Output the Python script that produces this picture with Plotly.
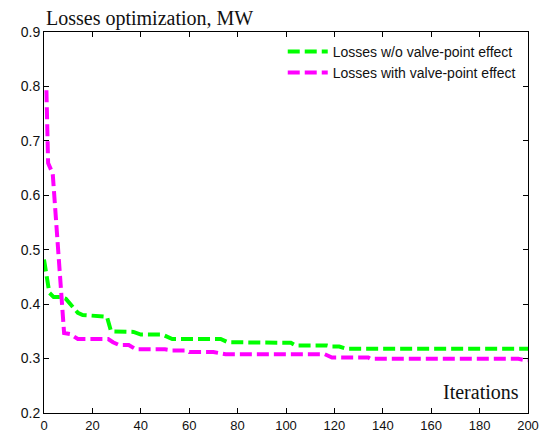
import plotly.graph_objects as go

# Convergence of transmission losses over the iterations
iter_wo = [0, 2.2, 4, 7, 9, 14, 16, 22, 26, 27.7, 37, 40, 49, 53, 73, 76, 102, 104, 117, 119, 122, 125, 200]
loss_wo = [0.482, 0.421, 0.413, 0.413, 0.41, 0.384, 0.38, 0.379, 0.377, 0.35, 0.349, 0.344, 0.344, 0.336, 0.336, 0.33, 0.329, 0.324, 0.324, 0.322, 0.322, 0.318, 0.318]

iter_vp = [1, 1.7, 3.6, 8.3, 10.8, 14, 26.5, 28.5, 31, 35, 38, 50, 53, 59, 60, 70, 75, 116, 119, 134, 135, 196, 199, 200]
loss_vp = [0.793, 0.659, 0.64, 0.347, 0.345, 0.336, 0.336, 0.33, 0.325, 0.325, 0.317, 0.317, 0.315, 0.315, 0.312, 0.312, 0.308, 0.308, 0.302, 0.302, 0.2995, 0.2995, 0.297, 0.297]

x_ticks = [0, 20, 40, 60, 80, 100, 120, 140, 160, 180, 200]
y_ticks = [0.2, 0.3, 0.4, 0.5, 0.6, 0.7, 0.8, 0.9]

fig = go.Figure()
fig.add_trace(go.Scatter(x=iter_wo, y=loss_wo, mode="lines",
                         name="Losses w/o valve-point effect",
                         line=dict(color="#00ff00", width=4, dash="12px,5px")))
fig.add_trace(go.Scatter(x=iter_vp, y=loss_vp, mode="lines",
                         name="Losses with valve-point effect",
                         line=dict(color="#ff00ff", width=4, dash="12px,5px")))

axis_common = dict(showline=True, linecolor="black", linewidth=1, mirror="allticks",
                   ticks="inside", ticklen=5, tickcolor="black", showgrid=False,
                   zeroline=False, automargin=False)

fig.update_xaxes(range=[0, 200], tickvals=x_ticks, ticklabelstandoff=0,
                 tickfont=dict(family="Arial, Liberation Sans", size=13, color="#111"),
                 **axis_common)
fig.update_yaxes(range=[0.2, 0.9], tickvals=y_ticks, tickformat=".1f",
                 tickfont=dict(family="Arial, Liberation Sans", size=14, color="#111"),
                 **axis_common)

fig.update_layout(
    width=544, height=432,
    margin=dict(l=44, r=16, t=32, b=19),
    paper_bgcolor="white", plot_bgcolor="white",
    showlegend=True,
    legend=dict(x=0.985, y=0.99, xanchor="right", yanchor="top",
                bgcolor="rgba(0,0,0,0)", borderwidth=0, itemwidth=40,
                font=dict(family="Arial, Liberation Sans", size=14, color="#111"),
                tracegroupgap=0),
    annotations=[
        dict(text="Losses optimization, MW", xref="paper", yref="paper", x=0, y=1,
             xanchor="left", yanchor="bottom", yshift=0, showarrow=False,
             font=dict(family="Liberation Serif, Times New Roman", size=20, color="#111")),
        dict(text="Iterations", xref="paper", yref="paper", x=0.985, y=0.02,
             xanchor="right", yanchor="bottom", showarrow=False,
             font=dict(family="Liberation Serif, Times New Roman", size=20, color="#111")),
    ],
)

fig.write_html("out.html")
